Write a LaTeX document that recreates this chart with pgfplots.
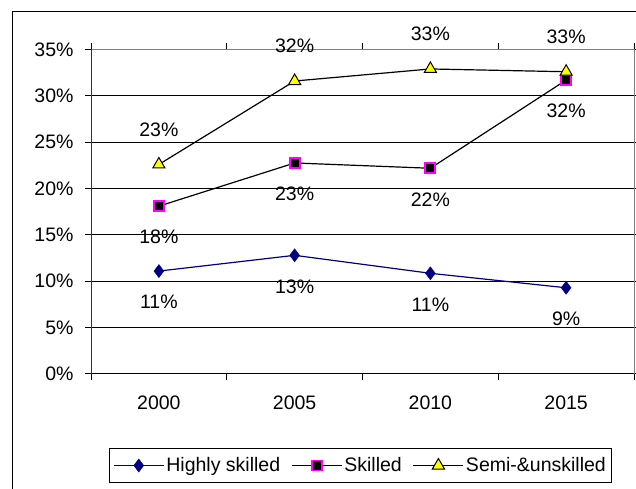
\documentclass[border=0pt]{standalone}
\usepackage{pgfplots}
\pgfplotsset{compat=1.18}
\usepackage{fontspec}
\setmainfont{Liberation Sans}
\definecolor{navy}{RGB}{0,0,128}
\definecolor{mag}{RGB}{255,0,255}
\definecolor{yel}{RGB}{255,255,0}
\pgfplotstableread{
x y
0 11.1
1 12.8
2 10.86
3 9.3
}\highly
\pgfplotstableread{
x y
0 18.1
1 22.76
2 22.19
3 31.7
}\skilled
\pgfplotstableread{
x y
0 22.6
1 31.6
2 32.9
3 32.6
}\semi
\newcommand{\ff}{\fontsize{19.5bp}{23bp}\selectfont}
\begin{document}
\begin{tikzpicture}[x=1bp,y=1bp]
\useasboundingbox (0,0) rectangle (636,489);
\draw[black, line width=1bp] (12,-5) rectangle (640,477);
\begin{axis}[
 at={(91bp,115bp)}, anchor=south west,
 scale only axis, width=543bp, height=324.5bp,
 xmin=-0.5, xmax=3.5, ymin=0, ymax=35,
 /pgf/number format/assume math mode=true,
 xtick={0,1,2,3}, xticklabels={2000,2005,2010,2015},
 major x tick style={draw=none},
 minor xtick={-0.5,0.5,1.5,2.5,3.5},
 ytick={0,5,10,15,20,25,30,35},
 yticklabels={0\%,5\%,10\%,15\%,20\%,25\%,30\%,35\%},
 tick align=outside,
 major tick length=6bp, minor tick length=6bp,
 tick style={black, line width=1bp},
 tick label style={font=\ff, text=black},
 xticklabel style={yshift=-12bp},
 yticklabel style={xshift=-8bp},
 ymajorgrids, grid style={black, line width=1bp},
 axis line style={gray, line width=1bp},
 clip=false,
 legend columns=3,
 legend style={at={(0.4963,-0.282)}, anchor=center, draw=black, line width=1bp,
   font=\ff, inner xsep=4bp, inner ysep=7bp,
   /tikz/every even column/.append style={column sep=9bp}},
 legend image code/.code={\draw[mark repeat=2,mark phase=2,#1] plot coordinates {(0bp,0bp) (25bp,0bp) (50bp,0bp)};},
 nodes near coords={\pgfmathprintnumber[fixed,precision=0]{\pgfplotspointmeta}\%},
 point meta=y,
]
\draw[black, line width=1bp] (rel axis cs:0,0) -- (rel axis cs:1,0);
\draw[gray!40!black, line width=1bp] (rel axis cs:0,0) -- (rel axis cs:0,1);
\addplot[navy, line width=1.2bp, mark=diamond*, mark size=6.5bp, mark options={fill=navy, draw=navy, line width=0.5bp},
  every node near coord/.style={anchor=center, yshift=-31bp, font=\ff, text=black}] table {\highly};
\addlegendentry{Highly skilled}
\addplot[black, line width=1.2bp, mark=square*, mark size=5bp, mark options={fill=black, draw=mag, line width=1.8bp},
  every node near coord/.style={anchor=center, yshift=-31bp, font=\ff, text=black}] table {\skilled};
\addlegendentry{Skilled}
\addplot[black, line width=1.2bp, mark=triangle*, mark size=7bp, mark options={fill=yel, draw=black, line width=1bp},
  every node near coord/.style={anchor=center, yshift=35bp, font=\ff, text=black}] table {\semi};
\addlegendentry{Semi-\&unskilled}
\end{axis}
\end{tikzpicture}
\end{document}
